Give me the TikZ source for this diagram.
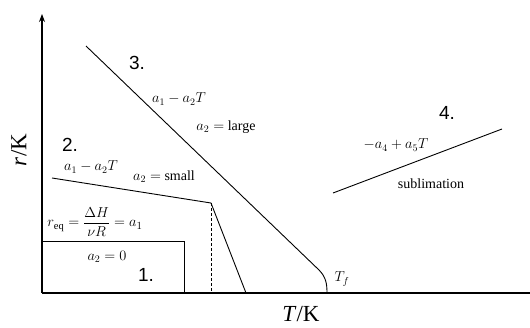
\documentclass[tikz,border=0pt]{standalone}
\usepackage{amsmath}
\usepackage{fontspec}
\setmainfont{Liberation Serif}
\newfontfamily\digitfont{Liberation Sans}
\usetikzlibrary{arrows.meta}
\begin{document}
\begin{tikzpicture}[x=1pt,y=-1pt,
  numlabel/.style={font=\digitfont\fontsize{19}{19}\selectfont, inner sep=0pt},
  lbl/.style={font=\fontsize{14}{14}\selectfont, inner sep=0pt},
  eqlbl/.style={font=\fontsize{15}{15}\selectfont, inner sep=0pt},
  axlbl/.style={font=\fontsize{23}{23}\selectfont, inner sep=0pt},
  axisline/.style={line width=1.1pt},
  curve/.style={line width=0.9pt}]
\useasboundingbox (0,0) rectangle (530,327);
% axes
\coordinate (O) at (42,293);
\coordinate (ytop) at (42,14);
\coordinate (xend) at (530,293);
\draw[axisline,-{Stealth[length=8pt,width=6pt]}] (O) -- (ytop);
\draw[axisline] (O) -- (xend);
% region 1 box
\coordinate (b1) at (42,241);
\coordinate (b2) at (184,293);
\draw[curve] (b1) -| (b2);
% line 2
\coordinate (s1) at (52,178);
\coordinate (s2) at (211,203);
\coordinate (s3) at (246,293);
\coordinate (s4) at (211,293);
\draw[curve] (s1) -- (s2) -- (s3);
\draw[curve,dashed,dash pattern=on 3pt off 2pt] (s2) -- (s4);
% line 3
\coordinate (l1) at (86,46);
\coordinate (l2) at (319,270);
\coordinate (l3) at (327,293);
\draw[curve] (l1) -- (l2) .. controls (326,277) and (327,284) .. (l3);
% line 4
\coordinate (m1) at (333,193);
\coordinate (m2) at (502,129);
\draw[curve] (m1) -- (m2);
% labels
\node[numlabel] (n3) at (137,63) {3.};
\node[numlabel] (n2) at (70,145) {2.};
\node[numlabel] (n1) at (146,275) {1.};
\node[numlabel] (n4) at (447,113) {4.};
\node[lbl] (t3a) at (179,99) {$a_1 - a_2T$};
\node[lbl] (t3b) at (226,127) {$a_2 =$ large};
\node[lbl] (t2a) at (91,167) {$a_1 - a_2T$};
\node[lbl] (t2b) at (164,177) {$a_2 =$ small};
\node[eqlbl] (teq) at (95,222) {$r_{\mathrm{eq}} = \dfrac{\Delta H}{\nu R} = a_1$};
\node[lbl] (t1) at (107,257) {$a_2 = 0$};
\node[lbl] (t4) at (396,145) {$-a_4 + a_5T$};
\node[lbl] (sub) at (431,184) {sublimation};
\node[lbl] (tf) at (342,279) {$T_f$};
\node[axlbl] (xl) at (301,314) {\textit{T}/K};
\node[axlbl,rotate=90] (yl) at (19,150) {\textit{r}/K};
\end{tikzpicture}
\end{document}
